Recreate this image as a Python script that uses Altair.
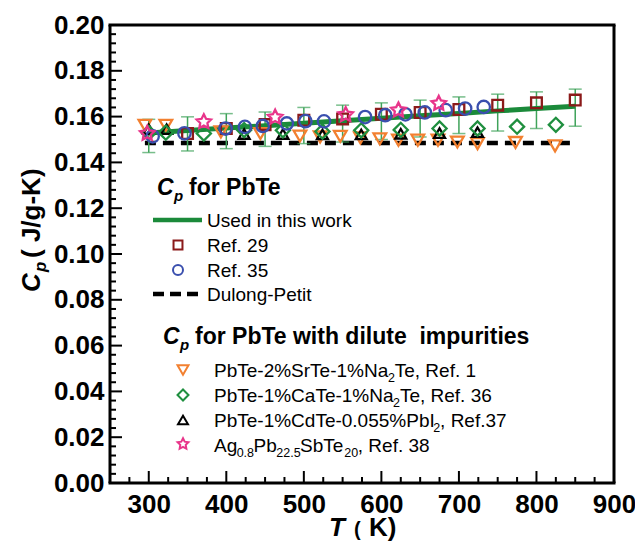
import math
import altair as alt
import pandas as pd

# ---------------- data ----------------
# "Used in this work" (green line) and its error bars
LINE_T = [300, 350, 400, 450, 500, 550, 600, 650, 700, 750, 800, 850]
LINE_CP = [0.1528, 0.1539, 0.1550, 0.1560, 0.1571, 0.1582, 0.1593, 0.1604, 0.1614, 0.1625, 0.1635, 0.1645]
ERR_LO = [0.1443, 0.1450, 0.1460, 0.1470, 0.1482, 0.1489, 0.1500, 0.1511, 0.1526, 0.1537, 0.1548, 0.1558]
ERR_HI = [0.1588, 0.1599, 0.1613, 0.1620, 0.1640, 0.1650, 0.1660, 0.1672, 0.1686, 0.1698, 0.1708, 0.1720]

# Dulong-Petit limit
DP_T = [295, 852]
DP_CP = [0.1485, 0.1485]

# Ref. 29 (squares)
SQ_T = [350, 400, 450, 500, 550, 600, 650, 700, 750, 800, 850]
SQ_CP = [0.1526, 0.1548, 0.1565, 0.1584, 0.1590, 0.1610, 0.1618, 0.1631, 0.1650, 0.1660, 0.1672]

# Ref. 35 (circles)
CI_T = [305, 346, 399, 424, 447, 478, 502, 526, 579, 605, 631, 656, 683, 708, 732]
CI_CP = [0.1514, 0.1527, 0.1548, 0.1555, 0.1559, 0.1570, 0.1580, 0.1579, 0.1598, 0.1606, 0.1610, 0.1618, 0.1628, 0.1635, 0.1642]

# PbTe-2%SrTe-1%Na2Te, Ref. 1 (down triangles)
TD_T = [295, 322, 393, 444, 495, 521, 547, 573, 598, 622, 647, 673, 698, 724, 773, 824]
TD_CP = [0.1562, 0.1562, 0.1533, 0.1526, 0.1515, 0.1511, 0.1514, 0.1507, 0.1503, 0.1497, 0.1497, 0.1497, 0.1489, 0.1482, 0.1487, 0.1472]

# PbTe-1%CaTe-1%Na2Te, Ref. 36 (diamonds)
DI_T = [300, 322, 371, 423, 473, 524, 574, 625, 675, 724, 775, 825]
DI_CP = [0.1529, 0.1530, 0.1526, 0.1541, 0.1540, 0.1535, 0.1540, 0.1542, 0.1548, 0.1548, 0.1556, 0.1564]

# PbTe-1%CdTe-0.055%PbI2, Ref. 37 (up triangles)
TU_T = [300, 323, 423, 473, 524, 574, 625, 675, 724]
TU_CP = [0.1545, 0.1545, 0.1524, 0.1524, 0.1522, 0.1522, 0.1525, 0.1528, 0.1532]

# Ag0.8Pb22.5SbTe20, Ref. 38 (stars)
ST_T = [298, 371, 463, 554, 622, 674]
ST_CP = [0.1526, 0.1577, 0.1597, 0.1608, 0.1628, 0.1657]

# axis ticks
X_LABELS = [300, 400, 500, 600, 700, 800, 900]
X_MAJOR = [300, 400, 500, 600, 700, 800]
X_MINOR = [275, 325, 350, 375, 425, 450, 475, 525, 550, 575, 625, 650, 675, 725, 750, 775, 825, 850, 875]
Y_LABELS = [0.00, 0.02, 0.04, 0.06, 0.08, 0.10, 0.12, 0.14, 0.16, 0.18, 0.20]
Y_MINOR = [0.004, 0.008, 0.012, 0.016, 0.024, 0.028, 0.032, 0.036, 0.044, 0.048, 0.052, 0.056,
           0.064, 0.068, 0.072, 0.076, 0.084, 0.088, 0.092, 0.096, 0.104, 0.108, 0.112, 0.116,
           0.124, 0.128, 0.132, 0.136, 0.144, 0.148, 0.152, 0.156, 0.164, 0.168, 0.172, 0.176,
           0.184, 0.188, 0.192, 0.196]

# legend texts
LEG1_TITLE = "for PbTe"
LEG1_LABELS = ["Used in this work", "Ref. 29", "Ref. 35", "Dulong-Petit"]
LEG2_TITLE = "for PbTe with dilute\u00a0 impurities"
LEG2_LABELS = [
    [("PbTe-2%SrTe-1%Na", "n"), ("2", "s"), ("Te, Ref. 1", "n")],
    [("PbTe-1%CaTe-1%Na", "n"), ("2", "s"), ("Te, Ref. 36", "n")],
    [("PbTe-1%CdTe-0.055%PbI", "n"), ("2", "s"), (", Ref.37", "n")],
    [("Ag", "n"), ("0.8", "s"), ("Pb", "n"), ("22.5", "s"), ("SbTe", "n"), ("20", "s"), (", Ref. 38", "n")],
]

# ---------------- styling ----------------
W, H = 504, 458
FONT = "Liberation Sans"
GREEN = "#1b8a3a"
ERR_GREEN = "#3fa35a"
RED = "#8b1a1a"
BLUE = "#3a4fae"
ORANGE = "#f28030"
DGREEN = "#1f8f3f"
PINK = "#e8358a"
XMIN, XMAX, YMIN, YMAX = 250, 900, 0.0, 0.2

# five-pointed star symbol path (unit coordinates)
_pts = []
for k in range(10):
    r = 1.0 if k % 2 == 0 else 0.5
    a = math.radians(-90 + 36 * k)
    _pts.append(f"{r * math.cos(a):.3f},{r * math.sin(a):.3f}")
STAR = "M" + "L".join(_pts) + "Z"

x_scale = alt.Scale(domain=[XMIN, XMAX], nice=False, zero=False)
y_scale = alt.Scale(domain=[YMIN, YMAX], nice=False, zero=True)

x_axis = alt.Axis(values=X_LABELS, format="d", title=None, ticks=False, domain=False,
                  grid=False, labelFont=FONT, labelFontWeight="bold", labelFontSize=26,
                  labelColor="black", labelPadding=8, labelFlush=False, labelOverlap=False)
y_axis = alt.Axis(values=Y_LABELS, format=".2f", title=None, ticks=False, domain=False,
                  grid=False, labelFont=FONT, labelFontWeight="bold", labelFontSize=26,
                  labelColor="black", labelPadding=6, labelFlush=False, labelOverlap=False)


def X(field="T"):
    return alt.X(f"{field}:Q", scale=x_scale, axis=x_axis)


def Y(field="Cp"):
    return alt.Y(f"{field}:Q", scale=y_scale, axis=y_axis)


def df(T, C):
    return pd.DataFrame({"T": T, "Cp": C})


layers = []

# inward axis ticks
layers.append(alt.Chart(pd.DataFrame({"T": X_MAJOR})).mark_rule(color="black", strokeWidth=2)
              .encode(x=X(), y=alt.value(H), y2=alt.value(H - 12)))
layers.append(alt.Chart(pd.DataFrame({"T": X_MINOR})).mark_rule(color="black", strokeWidth=2)
              .encode(x=X(), y=alt.value(H), y2=alt.value(H - 6)))
layers.append(alt.Chart(pd.DataFrame({"Cp": Y_LABELS})).mark_rule(color="black", strokeWidth=2)
              .encode(y=Y(), x=alt.value(0), x2=alt.value(12)))
layers.append(alt.Chart(pd.DataFrame({"Cp": Y_MINOR})).mark_rule(color="black", strokeWidth=2)
              .encode(y=Y(), x=alt.value(0), x2=alt.value(6)))

# plot frame
layers.append(alt.Chart(pd.DataFrame({"T": [XMIN, XMAX]})).mark_rule(color="black", strokeWidth=3)
              .encode(x=X(), y=alt.value(0), y2=alt.value(H)))
layers.append(alt.Chart(pd.DataFrame({"Cp": [YMIN, YMAX]})).mark_rule(color="black", strokeWidth=3)
              .encode(y=Y(), x=alt.value(-1.5), x2=alt.value(W + 1.5)))

# Dulong-Petit
layers.append(alt.Chart(df(DP_T, DP_CP)).mark_line(color="black", strokeWidth=4.5, strokeDash=[11, 7])
              .encode(x=X(), y=Y()))

# error bars
err = pd.DataFrame({"T": LINE_T, "lo": ERR_LO, "hi": ERR_HI})
layers.append(alt.Chart(err).mark_rule(color=ERR_GREEN, strokeWidth=1.5)
              .encode(x=X(), y=Y("lo"), y2="hi:Q"))
layers.append(alt.Chart(err).mark_tick(color=ERR_GREEN, orient="horizontal", size=13, thickness=1.5)
              .encode(x=X(), y=Y("lo")))
layers.append(alt.Chart(err).mark_tick(color=ERR_GREEN, orient="horizontal", size=13, thickness=1.5)
              .encode(x=X(), y=Y("hi")))

# green line
layers.append(alt.Chart(df(LINE_T, LINE_CP)).mark_line(color=GREEN, strokeWidth=5)
              .encode(x=X(), y=Y()))


def series(T, C, shape, color, size, sw=2.3):
    return alt.Chart(df(T, C)).mark_point(shape=shape, filled=False, size=size, strokeWidth=sw,
                                          color=color, opacity=1).encode(x=X(), y=Y())


layers.append(series(TD_T, TD_CP, "triangle-down", ORANGE, 160))
layers.append(series(TU_T, TU_CP, "triangle-up", "black", 120))
layers.append(series(DI_T, DI_CP, "diamond", DGREEN, 200))
layers.append(series(SQ_T, SQ_CP, "square", RED, 115))
layers.append(series(CI_T, CI_CP, "circle", BLUE, 155))
layers.append(series(ST_T, ST_CP, STAR, PINK, 230))

# ---------------- legend & titles: page pixel layout mapped through the scales ----------------
OX, OY = 110, 25  # page position of the plot origin


def tx(px):
    return XMIN + (px - OX) * (XMAX - XMIN) / W


def ty(py):
    return YMAX - (py - OY) * (YMAX - YMIN) / H


def txt(s, px, py, size, weight="normal", style="normal", angle=0):
    d = pd.DataFrame({"T": [tx(px)], "Cp": [ty(py)], "label": [s]})
    return alt.Chart(d).mark_text(font=FONT, fontSize=size, fontWeight=weight, fontStyle=style,
                                  color="black", angle=angle, align="left", baseline="alphabetic") \
        .encode(x=X(), y=Y(), text="label:N")


REG = {' ': 278, ',': 278, '-': 333, '.': 278, '%': 889, 'A': 667, 'C': 722, 'I': 278, 'N': 722,
       'P': 667, 'R': 722, 'S': 667, 'T': 611, 'a': 556, 'b': 556, 'd': 556, 'e': 556, 'f': 278,
       'g': 556, 'r': 333}


def text_run(parts, px, py, size=19, sub=12.5, dy=5, fit=0.975):
    out = []
    x = px
    for s, kind in parts:
        fs = size if kind == "n" else sub
        yy = py if kind == "n" else py + dy
        out.append(txt(s, x, yy, fs))
        x += sum(REG.get(c, 556) for c in s) * fs / 1000.0 * fit
    return out


def sym(shape, color, px, py, size, sw=2.0):
    d = pd.DataFrame({"T": [tx(px)], "Cp": [ty(py)]})
    return alt.Chart(d).mark_point(shape=shape, filled=False, size=size, strokeWidth=sw, color=color,
                                   opacity=1).encode(x=X(), y=Y())


def hline(px1, px2, py, color, sw, dash=None):
    kw = dict(color=color, strokeWidth=sw)
    if dash:
        kw["strokeDash"] = dash
    d = pd.DataFrame({"T": [tx(px1)], "T2": [tx(px2)], "Cp": [ty(py)]})
    return alt.Chart(d).mark_rule(**kw).encode(x=X(), x2="T2:Q", y=Y())


# legend group 1
layers += [txt("C", 157, 195, 23, "bold", "italic"), txt("p", 174, 201, 15, "bold", "italic"),
           txt(LEG1_TITLE, 189, 195, 23, "bold")]
layers.append(hline(153, 202, 220, GREEN, 4.5))
layers.append(txt(LEG1_LABELS[0], 207, 227, 19))
layers.append(sym("square", RED, 178, 245, 80))
layers.append(txt(LEG1_LABELS[1], 207, 252, 19))
layers.append(sym("circle", BLUE, 178, 270, 100))
layers.append(txt(LEG1_LABELS[2], 207, 277, 19))
layers.append(hline(153, 202, 294, "black", 4.5, [11, 6]))
layers.append(txt(LEG1_LABELS[3], 207, 301, 19))

# legend group 2
layers += [txt("C", 163, 344, 23, "bold", "italic"), txt("p", 180, 350, 15, "bold", "italic"),
           txt(LEG2_TITLE, 195, 344, 23, "bold")]
layers.append(sym("triangle-down", ORANGE, 183, 370, 120))
layers += text_run(LEG2_LABELS[0], 214, 377)
layers.append(sym("diamond", DGREEN, 183, 395, 120))
layers += text_run(LEG2_LABELS[1], 214, 402)
layers.append(sym("triangle-up", "black", 183, 420, 100))
layers += text_run(LEG2_LABELS[2], 214, 427)
layers.append(sym(STAR, PINK, 183, 444, 130))
layers += text_run(LEG2_LABELS[3], 214, 452)

# axis titles
layers += [txt("C", 40, 292, 26, "bold", "italic", angle=270),
           txt("p", 46, 272, 17, "bold", "italic", angle=270),
           txt("( J/g-K)", 40, 258, 26, "bold", angle=270)]
layers += [txt("T", 329, 536, 26, "bold", "italic"),
           txt("(", 354, 536, 20, "bold"),
           txt("K)", 369, 536, 26, "bold")]

chart = alt.layer(*layers).properties(
    width=W, height=H,
    autosize=alt.AutoSizeParams(type="none"),
    padding={"left": 102, "top": 17, "right": 21, "bottom": 59},
).configure_view(stroke=None)

chart.save("out.html", embed_options={"renderer": "svg", "actions": False})
